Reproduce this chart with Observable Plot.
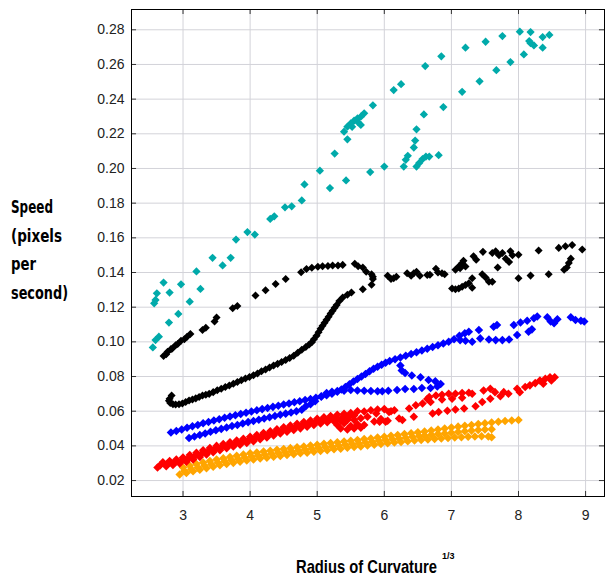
<!DOCTYPE html>
<html>
<head>
<meta charset="utf-8">
<script src="https://cdn.jsdelivr.net/npm/d3@7"></script>
<script src="https://cdn.jsdelivr.net/npm/@observablehq/plot@0.6"></script>
<style>
  html, body { margin: 0; padding: 0; background: #fff; }
  #chart { position: relative; width: 605px; height: 578px; }
</style>
</head>
<body>
<div id="chart"></div>
<script>
// ---- axis ticks ----
const xTicks = [3, 4, 5, 6, 7, 8, 9];
const yTicks = [0.02, 0.04, 0.06, 0.08, 0.10, 0.12, 0.14, 0.16, 0.18, 0.20, 0.22, 0.24, 0.26, 0.28];
const xDomain = [2.232, 9.282];
const yDomain = [0.0108, 0.2917];

// ---- titles ----
const yTitleLines = ["Speed", "(pixels", "per", "second)"];
const yTitleWidths = [42, 51, 25, 57];
const xTitle = "Radius of Curvature";
const xTitleSup = "1/3";

// ---- series (x = radius of curvature^(1/3), y = speed) ----
const cyan = [
  [8.46,.2770],[8.36,.2758],[8.18,.2787],[8.02,.2789],[7.76,.2764],[7.51,.2731],[7.21,.2697],[6.85,.2647],[6.61,.2591],
  [6.25,.2486],[6.14,.2452],[5.83,.2364],[5.70,.2318],[5.65,.2299],[5.60,.2289],[5.55,.2276],[5.50,.2260],[5.45,.2241],
  [5.40,.2212],[5.45,.2168],[5.65,.2251],[5.60,.2270],[5.52,.2240],[5.26,.2086],[5.04,.1987],[4.81,.1908],[4.77,.1816],
  [4.62,.1782],[4.52,.1776],[4.36,.1724],[4.30,.1709],[4.07,.1619],[3.96,.1633],[3.79,.1590],[3.71,.1485],[3.44,.1485],
  [8.36,.2697],[8.23,.2710],[8.18,.2723],[8.16,.2735],[8.08,.2658],[7.88,.2614],[7.67,.2567],[7.42,.2503],[7.16,.2442],
  [6.88,.2354],[6.59,.2312],[6.48,.2226],[6.46,.2161],[6.44,.2121],[6.35,.2073],[6.32,.2050],[6.29,.2011],[6.48,.2011],
  [6.52,.2031],[6.57,.2054],[6.62,.2069],[6.67,.2069],[6.81,.2077],[6.00,.2011],[5.79,.1979],[5.43,.1931],[5.19,.1887],
  [3.59,.1441],[3.20,.1406],[3.26,.1305],[2.97,.1332],[3.10,.1232],[2.80,.1284],[2.71,.1342],[2.61,.1280],[2.59,.1242],
  [2.57,.1222],[2.93,.1161],[2.79,.1111],[2.64,.1030],[2.59,.1010],[2.55,.0968]
];

const black = [
  [2.71,.0918],[2.75,.0928],[2.77,.0943],[2.82,.0958],[2.84,.0962],[2.89,.0980],[2.92,.0988],[2.97,.1006],[3.02,.1015],
  [3.06,.1030],[3.11,.1045],[3.29,.1069],[3.34,.1082],[3.47,.1117],[3.50,.1140],[3.74,.1194],[3.81,.1207],[4.08,.1268],
  [4.23,.1298],[4.38,.1334],[4.53,.1362],[4.76,.1402],[4.84,.1420],[4.92,.1428],[5.01,.1433],[5.08,.1436],[5.16,.1438],
  [5.23,.1440],[5.31,.1441],[5.38,.1444],[5.56,.1450],[5.61,.1436],[5.68,.1429],[5.73,.1405],[5.81,.1390],[5.83,.1375],
  [6.05,.1381],[6.10,.1362],[6.14,.1367],[6.18,.1375],[6.34,.1396],[6.40,.1381],[6.44,.1396],[6.48,.1405],[6.53,.1381],
  [6.64,.1386],[6.68,.1387],[6.77,.1421],[6.80,.1400],[6.86,.1396],[6.90,.1390],
  [7.06,.1416],[7.11,.1435],[7.13,.1425],[7.16,.1455],[7.18,.1468],[7.21,.1435],[7.33,.1494],[7.37,.1474],[7.47,.1519],
  [7.61,.1513],[7.66,.1523],[7.71,.1500],[7.69,.1429],[7.76,.1513],[7.81,.1480],[7.86,.1460],[7.88,.1523],[7.91,.1500],
  [8.00,.1503],[8.30,.1527],[8.60,.1542],[8.70,.1552],[8.80,.1558],[8.95,.1533],[8.78,.1480],[8.75,.1455],[8.72,.1429],
  [8.68,.1416],[7.01,.1308],[7.06,.1304],[7.11,.1308],[7.16,.1318],[7.21,.1328],[7.26,.1338],[7.31,.1367],[7.31,.1312],
  [7.46,.1390],[7.51,.1371],[7.56,.1347],[7.61,.1347],[8.00,.1367],[8.18,.1382],[8.45,.1390],
  [2.83,.0690],[2.80,.0672],[2.79,.0660],[2.81,.0648],[2.85,.0640],[2.89,.0638],[2.94,.0640],[2.99,.0645],[3.04,.0653],
  [3.09,.0662],[3.14,.0668],[3.19,.0674],[3.24,.0682],[3.29,.0690],[3.34,.0695],[3.39,.0700],[3.45,.0710],[3.51,.0721],
  [3.57,.0730],[3.63,.0739],[3.69,.0748],[3.75,.0758],[3.81,.0768],[3.87,.0778],[3.93,.0788],[3.99,.0797],[4.05,.0807],
  [4.11,.0818],[4.17,.0830],[4.23,.0841],[4.29,.0852],[4.35,.0863],[4.41,.0873],[4.47,.0884],[4.53,.0895],[4.59,.0907],
  [4.65,.0920],[4.71,.0937],[4.77,.0955],[4.83,.0970],[4.88,.0985],[4.92,.0998],[4.95,.1015],[4.99,.1035],[5.02,.1055],
  [5.05,.1075],[5.08,.1093],[5.11,.1110],[5.14,.1127],[5.17,.1145],[5.20,.1163],[5.23,.1180],[5.26,.1197],[5.29,.1213],
  [5.33,.1235],[5.38,.1256],[5.45,.1272],[5.51,.1285],[5.68,.1304],[5.81,.1329],[5.83,.1362]
];

const blue = [
  [2.82,.0477],[2.90,.0486],[2.98,.0495],[3.06,.0504],[3.14,.0513],[3.22,.0521],[3.30,.0530],[3.38,.0538],[3.46,.0546],
  [3.54,.0554],[3.62,.0562],[3.70,.0569],[3.78,.0577],[3.86,.0584],[3.94,.0591],[4.02,.0598],[4.10,.0605],[4.18,.0612],
  [4.26,.0619],[4.34,.0625],[4.42,.0632],[4.50,.0638],[4.58,.0645],[4.66,.0651],[4.74,.0657],[4.82,.0664],[4.90,.0670],
  [4.98,.0677],[5.06,.0684],[5.14,.0692],[5.22,.0701],[5.30,.0712],
  [5.36,.0725],[5.42,.0740],[5.48,.0755],[5.54,.0771],[5.60,.0786],[5.66,.0800],[5.72,.0815],[5.78,.0830],[5.84,.0845],
  [5.90,.0857],[5.96,.0868],[6.02,.0880],[6.08,.0890],
  [6.16,.0900],[6.24,.0910],[6.32,.0920],[6.40,.0930],[6.48,.0940],[6.56,.0950],[6.64,.0960],[6.72,.0970],[6.80,.0980],
  [6.88,.0990],[6.96,.1000],[7.04,.1015],[7.12,.1035],[7.20,.1050],[7.26,.1058],[7.41,.1068],[7.63,.1087],[7.68,.1097],
  [7.93,.1097],[8.03,.1111],[8.13,.1122],[8.23,.1136],[8.28,.1146],[8.43,.1142],[8.48,.1117],[8.53,.1107],[8.58,.1130],
  [8.78,.1142],[8.85,.1126],[8.93,.1122],[8.98,.1117],
  [8.20,.1072],[8.15,.1058],[7.98,.1039],[7.86,.1014],[7.76,.1010],[7.66,.1010],[7.56,.1014],[7.43,.1020],[7.31,.1000],
  [7.21,.1006],[7.13,.1010],
  [6.24,.0864],[6.26,.0835],[6.31,.0820],[6.41,.0806],[6.54,.0796],[6.66,.0780],[6.76,.0773],[6.84,.0757],[6.79,.0742],
  [6.69,.0734],[6.56,.0734],[6.44,.0728],[6.31,.0728],[6.19,.0722],[6.06,.0718],[5.97,.0715],[5.90,.0715],[5.80,.0716],
  [5.70,.0718],[5.60,.0720],[5.50,.0722],[5.40,.0718],[5.30,.0716],[5.22,.0712],
  [3.09,.0445],[3.17,.0454],[3.25,.0463],[3.33,.0472],[3.41,.0481],[3.49,.0490],[3.57,.0498],[3.65,.0506],[3.73,.0514],
  [3.81,.0521],[3.89,.0529],[3.97,.0537],[4.05,.0544],[4.13,.0551],[4.21,.0558],[4.29,.0565],[4.37,.0572],[4.45,.0579],
  [4.53,.0586],[4.61,.0593],[4.69,.0600],[4.77,.0608],[4.83,.0628],[4.90,.0640],[4.97,.0657],[5.06,.0686],[5.14,.0705]
];

const red = [
  [2.70,.0305],[2.80,.0313],[2.90,.0322],[3.00,.0333],[3.10,.0347],[3.20,.0361],[3.30,.0375],[3.40,.0388],[3.50,.0400],
  [3.60,.0411],[3.70,.0421],[3.80,.0431],[3.90,.0441],[4.00,.0452],[4.10,.0463],[4.20,.0474],[4.30,.0485],[4.40,.0496],
  [4.50,.0507],[4.60,.0517],[4.70,.0527],[4.80,.0537],[4.90,.0547],[5.00,.0557],[5.10,.0565],[5.20,.0572],[5.30,.0579],
  [5.40,.0585],[5.50,.0590],
  [2.66,.0288],[2.78,.0298],[2.88,.0306],[2.98,.0316],[3.08,.0328],[3.18,.0342],[3.28,.0356],[3.38,.0369],[3.48,.0382],
  [3.58,.0393],[3.68,.0404],[3.78,.0414],[3.88,.0424],[3.98,.0434],[4.08,.0445],[4.18,.0456],[4.28,.0467],[4.38,.0478],
  [4.48,.0489],[4.58,.0499],[4.68,.0509],[4.78,.0519],[4.88,.0529],[4.98,.0539],[5.08,.0547],[5.18,.0554],[5.28,.0560],
  [5.38,.0565],[5.48,.0569],
  [2.62,.0275],[2.75,.0282],[2.85,.0290],[2.95,.0298],[3.05,.0309],[3.15,.0322],[3.25,.0336],[3.35,.0350],[3.45,.0363],
  [3.55,.0375],[3.65,.0386],[3.75,.0396],[3.85,.0406],[3.95,.0416],[4.05,.0427],[4.15,.0438],[4.25,.0449],[4.35,.0460],
  [4.45,.0471],[4.55,.0481],[4.65,.0491],[4.75,.0501],[4.85,.0511],[4.95,.0521],[5.05,.0529],[5.15,.0536],[5.25,.0542],
  [5.35,.0546],[5.45,.0549],[5.55,.0550],
  [5.30,.0520],[5.35,.0500],[5.40,.0530],[5.45,.0495],[5.50,.0515],[5.55,.0500],[5.60,.0525],[5.65,.0505],[5.70,.0520],
  [5.45,.0565],[5.55,.0575],[5.65,.0560],[5.60,.0600],[5.70,.0598],[5.75,.0568],[5.80,.0605],[5.85,.0540],[5.90,.0610],
  [5.95,.0555],[6.00,.0612],[6.05,.0545],[6.10,.0600],[6.15,.0606],[6.22,.0558],[6.27,.0549],[6.37,.0615],[6.44,.0568],
  [6.47,.0634],[6.57,.0644],[5.88,.0587],[6.07,.0596],[5.93,.0539],[6.02,.0539],
  [6.64,.0670],[6.67,.0682],[6.69,.0653],[6.77,.0691],[6.86,.0695],[6.96,.0701],[7.06,.0701],[7.16,.0705],[7.26,.0707],
  [7.31,.0701],[6.86,.0667],[7.01,.0672],[7.16,.0678],[7.48,.0720],[7.58,.0730],[7.65,.0710],[7.78,.0710],[7.85,.0701],
  [7.98,.0730],[8.02,.0710],[8.10,.0739],[8.17,.0749],[8.25,.0762],[8.32,.0777],[8.40,.0787],[8.47,.0796],[8.54,.0796],
  [8.49,.0777],[8.37,.0758],
  [6.72,.0587],[6.81,.0596],[6.94,.0602],[7.06,.0610],[7.19,.0615],[7.36,.0629],[7.46,.0653],[7.58,.0672],[7.73,.0686]
];

const orange = [
  [3.00,.0275],[3.10,.0285],[3.20,.0295],[3.30,.0304],[3.40,.0313],[3.50,.0321],[3.60,.0329],[3.70,.0336],[3.80,.0343],
  [3.90,.0350],[4.00,.0357],[4.10,.0362],[4.20,.0367],[4.30,.0372],[4.40,.0377],[4.50,.0382],[4.60,.0387],[4.70,.0392],
  [4.80,.0397],[4.90,.0402],[5.00,.0407],[5.10,.0412],[5.20,.0416],[5.30,.0421],[5.40,.0425],[5.50,.0430],[5.60,.0434],
  [5.70,.0439],[5.80,.0443],[5.90,.0448],[6.00,.0453],[6.10,.0458],[6.20,.0463],[6.30,.0468],[6.40,.0473],[6.50,.0478],
  [6.60,.0483],[6.70,.0488],[6.80,.0494],[6.90,.0500],[7.00,.0506],[7.10,.0511],[7.20,.0516],[7.30,.0521],[7.40,.0526],
  [7.50,.0531],[7.60,.0535],[7.70,.0539],[7.80,.0543],[7.90,.0546],[8.00,.0549],
  [3.02,.0255],[3.12,.0265],[3.22,.0275],[3.32,.0285],[3.42,.0294],[3.52,.0303],[3.62,.0311],[3.72,.0318],[3.82,.0325],
  [3.92,.0332],[4.02,.0338],[4.12,.0344],[4.22,.0349],[4.32,.0354],[4.42,.0359],[4.52,.0364],[4.62,.0369],[4.72,.0374],
  [4.82,.0379],[4.92,.0383],[5.02,.0388],[5.12,.0393],[5.22,.0397],[5.32,.0402],[5.42,.0406],[5.52,.0411],[5.62,.0415],
  [5.72,.0420],[5.82,.0424],[5.92,.0429],[6.02,.0434],[6.12,.0438],[6.22,.0443],[6.32,.0447],[6.42,.0452],[6.52,.0456],
  [2.95,.0235],[3.05,.0243],[3.15,.0253],[3.25,.0262],[3.35,.0271],[3.45,.0280],[3.55,.0288],[3.65,.0295],[3.75,.0302],
  [3.85,.0309],[3.95,.0316],[4.05,.0322],[4.15,.0327],[4.25,.0332],[4.35,.0337],[4.45,.0342],[4.55,.0347],[4.65,.0352],
  [4.75,.0357],[4.85,.0361],[4.95,.0366],[5.05,.0371],[5.15,.0375],[5.25,.0380],[5.35,.0384],[5.45,.0389],[5.55,.0393],
  [5.65,.0397],[5.75,.0402],[5.85,.0406],[5.95,.0411],[6.05,.0415],[6.15,.0419],[6.25,.0423],[6.35,.0427],[6.45,.0431],
  [6.55,.0434],[6.65,.0437],[6.75,.0440],[6.85,.0443],[6.95,.0446],[7.05,.0448],[7.15,.0450],[7.25,.0452],[7.35,.0454],
  [7.45,.0455],[7.55,.0454],[7.60,.0450],
  [6.60,.0460],[6.70,.0464],[6.80,.0468],[6.90,.0472],[7.00,.0476],[7.10,.0480],[7.20,.0484],[7.30,.0488],[7.40,.0492],
  [7.50,.0494],[7.60,.0496]
];

const seriesColors = { orange: "#ffa500", red: "#ff0000", blue: "#0000ff", black: "#000000", cyan: "#00aaaa" };

// square rotated 45 degrees (diamond marker)
const diamond = {
  draw(context, size) {
    const r = Math.sqrt(size / 2);
    context.moveTo(0, -r); context.lineTo(r, 0); context.lineTo(0, r); context.lineTo(-r, 0); context.closePath();
  }
};

const dots = (data, color, r) => Plot.dot(data, {x: d => d[0], y: d => d[1], symbol: diamond, r, fill: color, stroke: "none"});

const tickLenX = 0.075, tickLenY = 0.0029;
const grid = "#d3d3d9", tickColor = "#333";

const chart = Plot.plot({
  width: 605,
  height: 578,
  marginLeft: 131,
  marginRight: 1,
  marginTop: 9,
  marginBottom: 82,
  style: {fontFamily: "'Liberation Sans', Arial, sans-serif", fontSize: "14px", color: "#222", background: "#fff"},
  x: {domain: xDomain, ticks: xTicks, tickSize: 0, tickPadding: 14, tickFormat: d => String(d), label: null},
  y: {domain: yDomain, ticks: yTicks, tickSize: 0, tickPadding: 7, tickFormat: d3.format(".2f"), label: null},
  marks: [
    Plot.ruleX(xTicks, {x: d => d, stroke: grid}),
    Plot.ruleY(yTicks, {y: d => d, stroke: grid}),
    Plot.ruleX(xTicks, {x: d => d, y1: () => yDomain[1], y2: () => yDomain[1] - tickLenY, stroke: tickColor}),
    Plot.ruleX(xTicks, {x: d => d, y1: () => yDomain[0], y2: () => yDomain[0] + tickLenY, stroke: tickColor}),
    Plot.ruleY(yTicks, {y: d => d, x1: () => xDomain[0], x2: () => xDomain[0] + tickLenX, stroke: tickColor}),
    Plot.ruleY(yTicks, {y: d => d, x1: () => xDomain[1], x2: () => xDomain[1] - tickLenX, stroke: tickColor}),
    dots(orange, seriesColors.orange, 3.4),
    dots(red, seriesColors.red, 3.4),
    dots(blue, seriesColors.blue, 3.4),
    dots(black, seriesColors.black, 3.2),
    dots(cyan, seriesColors.cyan, 3.3),
    Plot.frame({stroke: "#000"})
  ]
});

document.getElementById("chart").appendChild(chart);

const svg = d3.select(chart);
const titleFont = "'Liberation Sans Narrow', 'DejaVu Sans Condensed', 'Liberation Sans', sans-serif";
yTitleLines.forEach((t, i) => {
  svg.append("text")
    .attr("x", 11).attr("y", 213 + i * 28.5)
    .attr("text-anchor", "start")
    .attr("font-family", titleFont).attr("font-weight", "bold").attr("font-size", 17)
    .attr("textLength", yTitleWidths[i]).attr("lengthAdjust", "spacingAndGlyphs")
    .attr("fill", "#000").text(t);
});
// main x title: narrow font size, stretched vertically to the reference's tall condensed look
svg.append("text")
  .attr("transform", "translate(296,573) scale(1,1.22)")
  .attr("x", 0).attr("y", 0)
  .attr("text-anchor", "start")
  .attr("font-family", "'Liberation Sans', Arial, sans-serif").attr("font-weight", "bold").attr("font-size", 14.75)
  .attr("textLength", 141).attr("lengthAdjust", "spacingAndGlyphs")
  .attr("fill", "#000").text(xTitle);
svg.append("text")
  .attr("x", 442).attr("y", 559)
  .attr("text-anchor", "start")
  .attr("font-family", "'Liberation Sans', Arial, sans-serif").attr("font-weight", "bold").attr("font-size", 9)
  .attr("fill", "#000").text(xTitleSup);
</script>
</body>
</html>
